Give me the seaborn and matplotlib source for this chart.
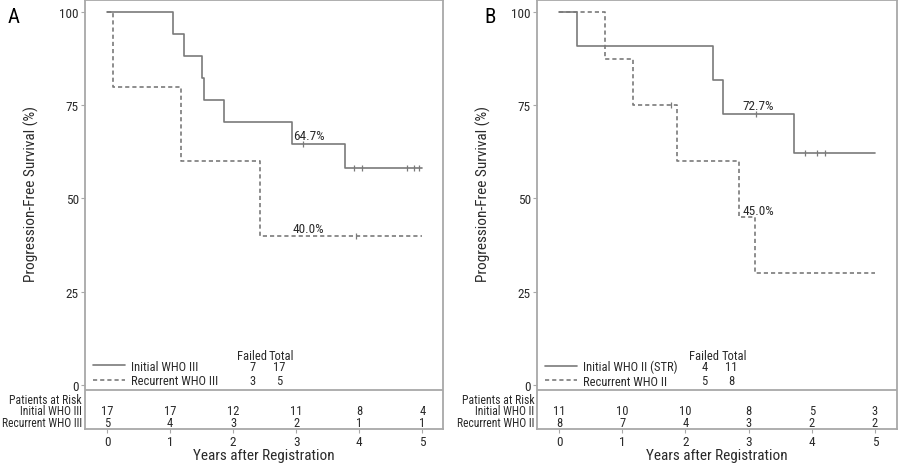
import numpy as np
import pandas as pd
import seaborn as sns
import matplotlib.pyplot as plt
from matplotlib import font_manager

# Kaplan-Meier step values (years, % progression-free)
a_init_times = [0, 1.05, 1.22, 1.51, 1.54, 1.86, 2.94, 3.78, 5.0]
a_init_surv = [100, 94.1, 88.2, 82.4, 76.5, 70.6, 64.7, 58.2, 58.2]
a_init_cens = [3.11, 3.92, 4.05, 4.76, 4.86, 4.95]
a_rec_times = [0, 0.10, 1.17, 2.42, 5.0]
a_rec_surv = [100, 80, 60, 40, 40]
a_rec_cens = [3.95]

b_init_times = [0, 0.28, 2.44, 2.59, 3.72, 5.0]
b_init_surv = [100, 90.9, 81.8, 72.7, 62.3, 62.3]
b_init_cens = [3.12, 3.89, 4.08, 4.21]
b_rec_times = [0, 0.73, 1.17, 1.87, 2.85, 3.10, 5.0]
b_rec_surv = [100, 87.5, 75, 60, 45, 30, 30]
b_rec_cens = [1.77]

a_groups = ['Initial WHO III', 'Recurrent WHO III']
b_groups = ['Initial WHO II (STR)', 'Recurrent WHO II']
a_risk_labels = ['Initial WHO III', 'Recurrent WHO III']
b_risk_labels = ['Initial WHO II', 'Recurrent WHO II']
a_failed = [7, 3]
a_total = [17, 5]
b_failed = [4, 5]
b_total = [11, 8]
a_risk = [[17, 17, 12, 11, 8, 4], [5, 4, 3, 2, 1, 1]]
b_risk = [[11, 10, 10, 8, 5, 3], [8, 7, 4, 3, 2, 2]]
years = [0, 1, 2, 3, 4, 5]

a_notes = [(2.95, 66.9, '64.7%'), (2.94, 42.0, '40.0%')]
b_notes = [(2.90, 74.9, '72.7%'), (2.90, 46.9, '45.0%')]

sns.set_style('white')
installed = {f.name for f in font_manager.fontManager.ttflist}
fams = [f for f in ['Liberation Sans Narrow', 'DejaVu Sans Condensed', 'Roboto Condensed', 'Lato']
        if f in installed] + ['DejaVu Sans']
plt.rcParams['font.family'] = fams

line_col = '#7a7a7a'
frame_col = '#a8a8a8'
text_col = '#2a2a2a'
fs = 9.5


def step_value(times, surv, t):
    idx = np.searchsorted(times, t, side='right') - 1
    return surv[idx]


def draw_panel(ax, curves, groups, failed, total, risk, risk_labels, notes):
    rows = []
    cens_rows = []
    for (times, surv, cens), g in zip(curves, groups):
        for t, s in zip(times, surv):
            rows.append({'t': t, 's': s, 'group': g})
        for c in cens:
            cens_rows.append({'t': c, 's': step_value(times, surv, c), 'group': g})
    df = pd.DataFrame(rows)
    cdf = pd.DataFrame(cens_rows)

    sns.lineplot(data=df, x='t', y='s', style='group', style_order=groups,
                 dashes={groups[0]: '', groups[1]: (2.5, 1.8)},
                 color=line_col, linewidth=1.2, drawstyle='steps-post',
                 estimator=None, sort=False, ax=ax, legend=True)
    sns.scatterplot(data=cdf, x='t', y='s', marker='|', color=line_col,
                    s=18, linewidth=0.9, ax=ax, legend=False)

    ax.set_ylim(-11.8, 103.2)
    ax.set_yticks([0, 25, 50, 75, 100])
    ax.set_xticks(years)
    ax.tick_params(axis='both', length=3, width=0.8, color=frame_col,
                   labelsize=9.5, labelcolor=text_col, pad=1.5, bottom=True, left=True)
    for sp in ax.spines.values():
        sp.set_color(frame_col)
        sp.set_linewidth(1.3)
    ax.axhline(-1.34, color=frame_col, linewidth=1.3)

    ax.set_xlabel('Years after Registration', fontsize=11, color=text_col, labelpad=0)
    ax.set_ylabel('Progression-Free Survival (%)', fontsize=11, color=text_col)
    ax.yaxis.set_label_coords(-0.128, 0.549)

    leg = ax.legend(loc='center left', bbox_to_anchor=(-0.23, 3.05),
                    bbox_transform=ax.transData, frameon=False,
                    fontsize=9, handlelength=2.6, handletextpad=0.45,
                    labelspacing=0.12, borderpad=0, borderaxespad=0)
    for txt in leg.get_texts():
        txt.set_color(text_col)

    ax.text(2.30, 7.8, 'Failed', ha='center', va='center', fontsize=9, color=text_col)
    ax.text(2.77, 7.8, 'Total', ha='center', va='center', fontsize=9, color=text_col)
    for i, yy in enumerate([4.9, 1.2]):
        ax.text(2.30, yy, str(failed[i]), ha='center', va='center', fontsize=9, color=text_col)
        ax.text(2.73, yy, str(total[i]), ha='center', va='center', fontsize=9, color=text_col)

    for x, y, s in notes:
        ax.text(x, y, s, ha='left', va='center', fontsize=fs, color=text_col)

    tr = ax.get_yaxis_transform()
    ax.text(-0.008, -3.9, 'Patients at Risk', transform=tr, ha='right', va='center',
            fontsize=8.5, color=text_col)
    for row, lab, yy in zip(risk, risk_labels, [-6.9, -10.0]):
        ax.text(-0.008, yy, lab, transform=tr, ha='right', va='center',
                fontsize=8.3, color=text_col)
        for x, n in zip(years, row):
            ax.text(x, yy, str(n), ha='center', va='center', fontsize=9, color=text_col)


fig = plt.figure(figsize=(9, 4.64), dpi=100)
ax_a = fig.add_axes([0.0944, 0.0733, 0.398, 0.9246])
ax_b = fig.add_axes([0.5967, 0.0733, 0.400, 0.9246])

draw_panel(ax_a,
           [(a_init_times, a_init_surv, a_init_cens), (a_rec_times, a_rec_surv, a_rec_cens)],
           a_groups, a_failed, a_total, a_risk, a_risk_labels, a_notes)
draw_panel(ax_b,
           [(b_init_times, b_init_surv, b_init_cens), (b_rec_times, b_rec_surv, b_rec_cens)],
           b_groups, b_failed, b_total, b_risk, b_risk_labels, b_notes)
ax_a.set_xlim(-0.35, 5.33)
ax_b.set_xlim(-0.35, 5.35)

fig.text(0.008, 0.962, 'A', fontsize=15, color='black', va='center')
fig.text(0.538, 0.962, 'B', fontsize=15, color='black', va='center')

fig.savefig('out.png', dpi=100)
